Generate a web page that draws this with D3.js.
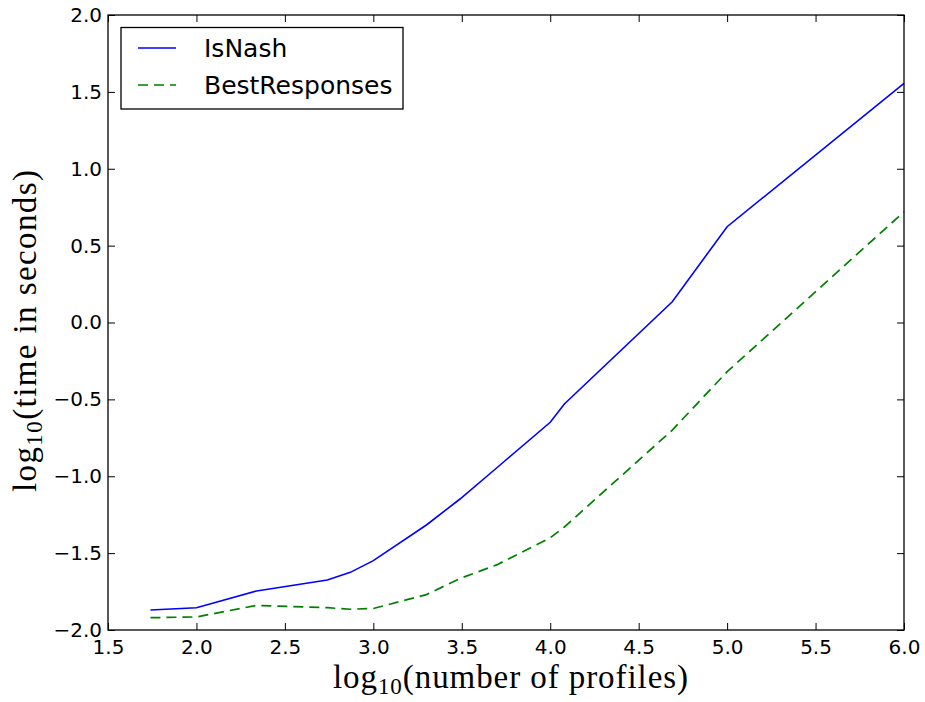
<!DOCTYPE html>
<html><head><meta charset="utf-8">
<script src="https://cdn.jsdelivr.net/npm/d3@7"></script>
<style>body{margin:0;background:#fff}</style>
</head><body>
<svg id="c" width="925" height="702"></svg>
<script>
const xIsNash = [1.74, 2.0, 2.34, 2.74, 2.87, 3.0, 3.3, 3.49, 3.7, 4.0, 4.08, 4.69, 5.0, 6.0];
const yIsNash = [-1.87, -1.855, -1.746, -1.675, -1.625, -1.549, -1.317, -1.148, -0.943, -0.649, -0.53, 0.135, 0.623, 1.556];
const xBest = [1.74, 2.0, 2.34, 2.74, 2.87, 3.0, 3.3, 3.49, 3.7, 4.0, 4.08, 4.69, 5.0, 6.0];
const yBest = [-1.92, -1.915, -1.84, -1.855, -1.865, -1.86, -1.77, -1.665, -1.575, -1.40, -1.33, -0.70, -0.32, 0.72];
const xTicks = [1.5, 2.0, 2.5, 3.0, 3.5, 4.0, 4.5, 5.0, 5.5, 6.0];
const yTicks = [-2.0, -1.5, -1.0, -0.5, 0.0, 0.5, 1.0, 1.5, 2.0];
const seriesNames = ["IsNash", "BestResponses"];

const svg = d3.select("#c");
const L = 108, R = 904, T = 15, B = 630;
const x = d3.scaleLinear().domain([1.5, 6.0]).range([L, R]);
const y = d3.scaleLinear().domain([-2.0, 2.0]).range([B, T]);
const fmt = v => (v < 0 ? "\u2212" : "") + Math.abs(v).toFixed(1);
const tickFont = "DejaVu Sans, sans-serif";

const line = d3.line().x(d => x(d[0])).y(d => y(d[1]));
svg.append("path").datum(d3.zip(xIsNash, yIsNash)).attr("d", line)
  .attr("fill", "none").attr("stroke", "#0000ff").attr("stroke-width", 1.6);
svg.append("path").datum(d3.zip(xBest, yBest)).attr("d", line)
  .attr("fill", "none").attr("stroke", "#008000").attr("stroke-width", 1.7)
  .attr("stroke-dasharray", "10,6");

// axes with inward ticks
const gB = svg.append("g").attr("transform", `translate(0,${B})`)
  .call(d3.axisBottom(x).tickValues(xTicks).tickFormat(fmt).tickSizeInner(-7).tickSizeOuter(0));
const gT = svg.append("g").attr("transform", `translate(0,${T})`)
  .call(d3.axisTop(x).tickValues(xTicks).tickFormat("").tickSizeInner(-7).tickSizeOuter(0));
const gL = svg.append("g").attr("transform", `translate(${L},0)`)
  .call(d3.axisLeft(y).tickValues(yTicks).tickFormat(fmt).tickSizeInner(-7).tickSizeOuter(0).tickPadding(6));
const gR = svg.append("g").attr("transform", `translate(${R},0)`)
  .call(d3.axisRight(y).tickValues(yTicks).tickFormat("").tickSizeInner(-7).tickSizeOuter(0));
[gB, gT, gL, gR].forEach(g => {
  g.select(".domain").remove();
  g.selectAll("line").attr("stroke", "#000").attr("stroke-width", 1);
  g.selectAll("text").attr("font-family", tickFont).attr("font-size", 20).attr("fill", "#000");
});
gB.selectAll("text").attr("dy", 0).attr("y", 24);
svg.append("rect").attr("x", L).attr("y", T).attr("width", R - L).attr("height", B - T)
  .attr("fill", "none").attr("stroke", "#000").attr("stroke-width", 1.3);

// axis labels
const serif = "Liberation Serif, DejaVu Serif, serif";
const xl = svg.append("text").attr("x", 333).attr("y", 688)
  .attr("font-family", serif).attr("font-size", 33)
  .attr("textLength", 355).attr("lengthAdjust", "spacing");
xl.append("tspan").text("log");
xl.append("tspan").attr("font-size", 23).attr("dy", 6).text("10");
xl.append("tspan").attr("dy", -6).text("(number of profiles)");

const yl = svg.append("text").attr("transform", `translate(36,492) rotate(-90)`)
  .attr("font-family", serif).attr("font-size", 33)
  .attr("textLength", 322).attr("lengthAdjust", "spacing");
yl.append("tspan").text("log");
yl.append("tspan").attr("font-size", 23).attr("dy", 6).text("10");
yl.append("tspan").attr("dy", -6).text("(time in seconds)");

// legend
const lg = svg.append("g");
lg.append("rect").attr("x", 121).attr("y", 27.5).attr("width", 282).attr("height", 81.5)
  .attr("fill", "#fff").attr("stroke", "#000").attr("stroke-width", 1.3);
const colors = ["#0000ff", "#008000"];
const dashes = [null, "10,6"];
seriesNames.forEach((n, i) => {
  const yy = 48 + i * 37;
  lg.append("line").attr("x1", 138).attr("x2", 176).attr("y1", yy).attr("y2", yy)
    .attr("stroke", colors[i]).attr("stroke-width", 1.6).attr("stroke-dasharray", dashes[i]);
  lg.append("text").attr("x", 204).attr("y", yy + 8.5).attr("font-family", tickFont)
    .attr("font-size", 25).text(n);
});
</script>
</body></html>
